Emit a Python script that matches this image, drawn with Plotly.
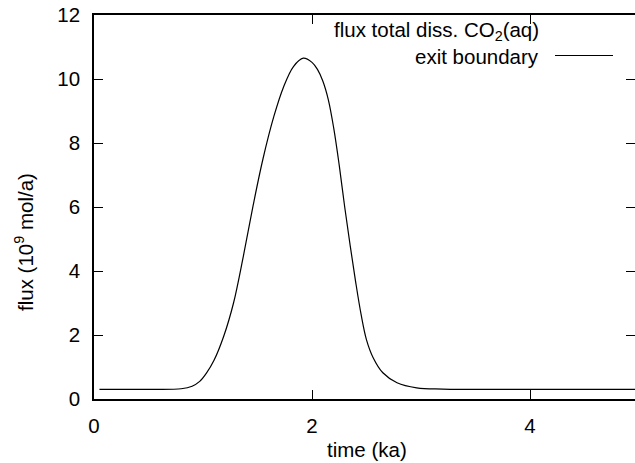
import plotly.graph_objects as go

# Data
time_ka = [0.05, 0.5, 0.8, 0.9, 0.97, 1.03, 1.1, 1.19, 1.28, 1.37, 1.46, 1.55, 1.65,
           1.74, 1.83, 1.92, 2.0, 2.05, 2.1, 2.15, 2.2, 2.25, 2.3, 2.35, 2.4, 2.45,
           2.5, 2.56, 2.65, 2.78, 2.96, 3.2, 4.0, 5.0]
flux = [0.3, 0.3, 0.32, 0.4, 0.55, 0.8, 1.2, 1.96, 3.0, 4.46, 6.05, 7.5, 8.83,
        9.76, 10.39, 10.65, 10.52, 10.3, 9.93, 9.35, 8.45, 7.3, 6.0, 4.8, 3.67, 2.65,
        1.85, 1.3, 0.82, 0.51, 0.35, 0.31, 0.3, 0.3]
x_ticks = [0, 2, 4]
y_ticks = [0, 2, 4, 6, 8, 10, 12]

FONT = "Liberation Sans, Arial, Helvetica, sans-serif"
FS = 20.5

fig = go.Figure()
fig.add_trace(go.Scatter(x=time_ka, y=flux, mode="lines",
                         line=dict(color="black", width=1.2, shape="spline", smoothing=1.0),
                         showlegend=False, hoverinfo="skip"))
# invisible trace to activate right-hand tick axis
fig.add_trace(go.Scatter(x=[None], y=[None], yaxis="y2", showlegend=False))

XMAX = (635 - 94) / 109.0

fig.update_layout(
    width=635, height=463,
    margin=dict(l=94, r=0, t=15, b=64),
    paper_bgcolor="white", plot_bgcolor="white",
    font=dict(family=FONT, size=FS, color="black"),
    xaxis=dict(range=[0, XMAX], tickvals=x_ticks, ticks="inside", ticklen=9,
               tickwidth=1.2, tickcolor="black", showline=True, linecolor="black",
               linewidth=1.5, mirror="ticks", showgrid=False, zeroline=False,
               ticklabelstandoff=8),
    yaxis=dict(range=[0, 12], tickvals=y_ticks, ticks="inside", ticklen=9,
               tickwidth=1.2, tickcolor="black", showline=True, linecolor="black",
               linewidth=1.5, showgrid=False, zeroline=False, ticklabelstandoff=8),
    yaxis2=dict(range=[0, 12], tickvals=y_ticks, ticks="inside", ticklen=9,
                tickwidth=1.2, tickcolor="black", overlaying="y", side="right",
                showticklabels=False, showgrid=False, zeroline=False, showline=False),
)

# axis titles
fig.add_annotation(text="time (ka)", x=2.5, xref="x", y=-(449 - 399) / 384, yref="paper",
                   showarrow=False, xanchor="center", yanchor="middle")
fig.add_annotation(text="flux (10<sup>9</sup> mol/a)", x=-(94 - 24) / 541, xref="paper",
                   y=(399 - 242) / 384, yref="paper",
                   showarrow=False, textangle=-90, xanchor="center", yanchor="middle")

# key
fig.add_annotation(text="flux total diss. CO<sub>2</sub>(aq)", x=(541 - 94) / 109, xref="x",
                   y=(399.5 - 31) / 32, yref="y", showarrow=False,
                   xanchor="right", yanchor="middle")
fig.add_annotation(text="exit boundary", x=(541 - 94) / 109, xref="x",
                   y=(399.5 - 57) / 32, yref="y", showarrow=False,
                   xanchor="right", yanchor="middle")
fig.add_shape(type="line", xref="x", yref="y",
              x0=(555 - 94) / 109, x1=(613 - 94) / 109,
              y0=(399.5 - 56) / 32, y1=(399.5 - 56) / 32,
              line=dict(color="black", width=1.2))

fig.write_html("out.html")
